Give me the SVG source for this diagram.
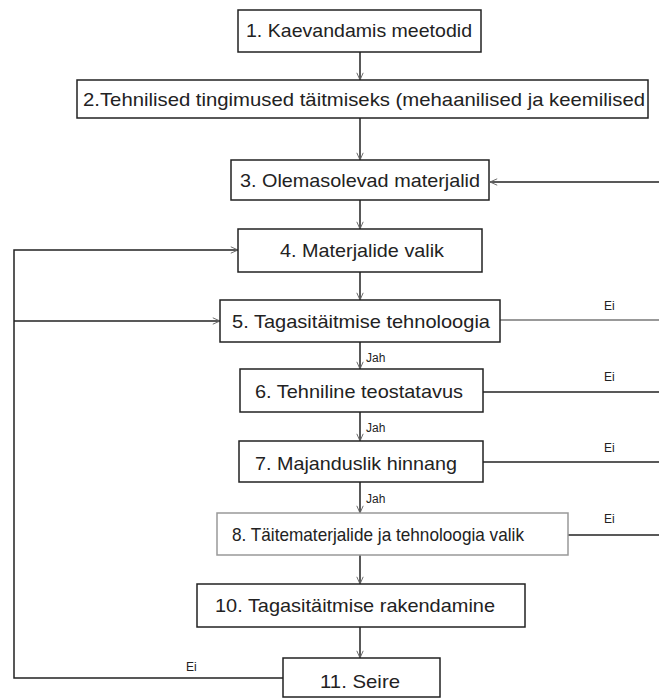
<svg xmlns="http://www.w3.org/2000/svg" width="659" height="700" viewBox="0 0 659 700">
<style>
.box{fill:#fff;stroke:#222;stroke-width:1.5}
.box.light{stroke:#999}
.t{font-family:"Liberation Sans",Arial,sans-serif;font-size:19px;fill:#222;text-anchor:middle}
.lbl{font-family:"Liberation Sans",Arial,sans-serif;font-size:12px;fill:#222}
.c{fill:none;stroke:#222;stroke-width:1.5}
.c.gray{stroke:#777}
</style>
<defs>
<marker id="ah" viewBox="0 0 10 10" refX="10" refY="5" markerWidth="8" markerHeight="8" orient="auto" markerUnits="userSpaceOnUse">
<path d="M1,1 L10,5 L1,9" fill="none" stroke="#666" stroke-width="1.2"/>
</marker>
</defs>
<rect width="659" height="700" fill="#fff"/>
<g id="connectors">
<line class="c" x1="360" y1="52" x2="360" y2="80" marker-end="url(#ah)"/>
<line class="c" x1="360" y1="118" x2="360" y2="160" marker-end="url(#ah)"/>
<line class="c" x1="360" y1="200" x2="360" y2="229" marker-end="url(#ah)"/>
<line class="c" x1="360" y1="272" x2="360" y2="300" marker-end="url(#ah)"/>
<line class="c" x1="360" y1="342" x2="360" y2="369" marker-end="url(#ah)"/>
<line class="c" x1="360" y1="412" x2="360" y2="441" marker-end="url(#ah)"/>
<line class="c" x1="360" y1="482" x2="360" y2="513" marker-end="url(#ah)"/>
<line class="c" x1="360" y1="555" x2="360" y2="584" marker-end="url(#ah)"/>
<line class="c" x1="360" y1="627" x2="360" y2="658" marker-end="url(#ah)"/>
<line class="c" x1="659" y1="182" x2="490" y2="182" marker-end="url(#ah)"/>
<line class="c gray" x1="500" y1="320" x2="659" y2="320"/>
<line class="c" x1="483" y1="392" x2="659" y2="392"/>
<line class="c" x1="483" y1="462" x2="659" y2="462"/>
<line class="c" x1="568" y1="535" x2="659" y2="535"/>
<polyline class="c" points="283,678 14,678 14,250 238,250" marker-end="url(#ah)"/>
<line class="c" x1="14" y1="321" x2="220" y2="321" marker-end="url(#ah)"/>
<text class="lbl" x="366" y="362">Jah</text>
<text class="lbl" x="366" y="432">Jah</text>
<text class="lbl" x="366" y="503">Jah</text>
<text class="lbl" x="604" y="310">Ei</text>
<text class="lbl" x="604" y="381">Ei</text>
<text class="lbl" x="604" y="452">Ei</text>
<text class="lbl" x="604" y="523">Ei</text>
<text class="lbl" x="186" y="671">Ei</text>
</g>
<g id="n1"><rect class="box" x="238" y="10" width="243" height="42"/><text class="t" x="359" y="37" textLength="226" lengthAdjust="spacingAndGlyphs">1. Kaevandamis meetodid</text></g>
<g id="n2"><rect class="box" x="77" y="80" width="571" height="38"/><text class="t" x="364" y="106" textLength="562" lengthAdjust="spacingAndGlyphs">2.Tehnilised tingimused täitmiseks (mehaanilised ja keemilised</text></g>
<g id="n3"><rect class="box" x="231" y="160" width="258" height="40"/><text class="t" x="360" y="187" textLength="240" lengthAdjust="spacingAndGlyphs">3. Olemasolevad materjalid</text></g>
<g id="n4"><rect class="box" x="238" y="229" width="244" height="43"/><text class="t" x="362" y="257" textLength="164" lengthAdjust="spacingAndGlyphs">4. Materjalide valik</text></g>
<g id="n5"><rect class="box" x="220" y="300" width="280" height="42"/><text class="t" x="361" y="328" textLength="258" lengthAdjust="spacingAndGlyphs">5. Tagasitäitmise tehnoloogia</text></g>
<g id="n6"><rect class="box" x="240" y="369" width="243" height="43"/><text class="t" x="359" y="398" textLength="208" lengthAdjust="spacingAndGlyphs">6. Tehniline teostatavus</text></g>
<g id="n7"><rect class="box" x="239" y="441" width="244" height="41"/><text class="t" x="356" y="470" textLength="202" lengthAdjust="spacingAndGlyphs">7. Majanduslik hinnang</text></g>
<g id="n8"><rect class="box light" x="217" y="513" width="351" height="42"/><text class="t" x="378" y="541" textLength="292" lengthAdjust="spacingAndGlyphs">8. Täitematerjalide ja tehnoloogia valik</text></g>
<g id="n10"><rect class="box" x="197" y="584" width="328" height="43"/><text class="t" x="355" y="612" textLength="280" lengthAdjust="spacingAndGlyphs">10. Tagasitäitmise rakendamine</text></g>
<g id="n11"><rect class="box" x="283" y="658" width="157" height="39"/><text class="t" x="360" y="688" textLength="80" lengthAdjust="spacingAndGlyphs">11. Seire</text></g>
</svg>
